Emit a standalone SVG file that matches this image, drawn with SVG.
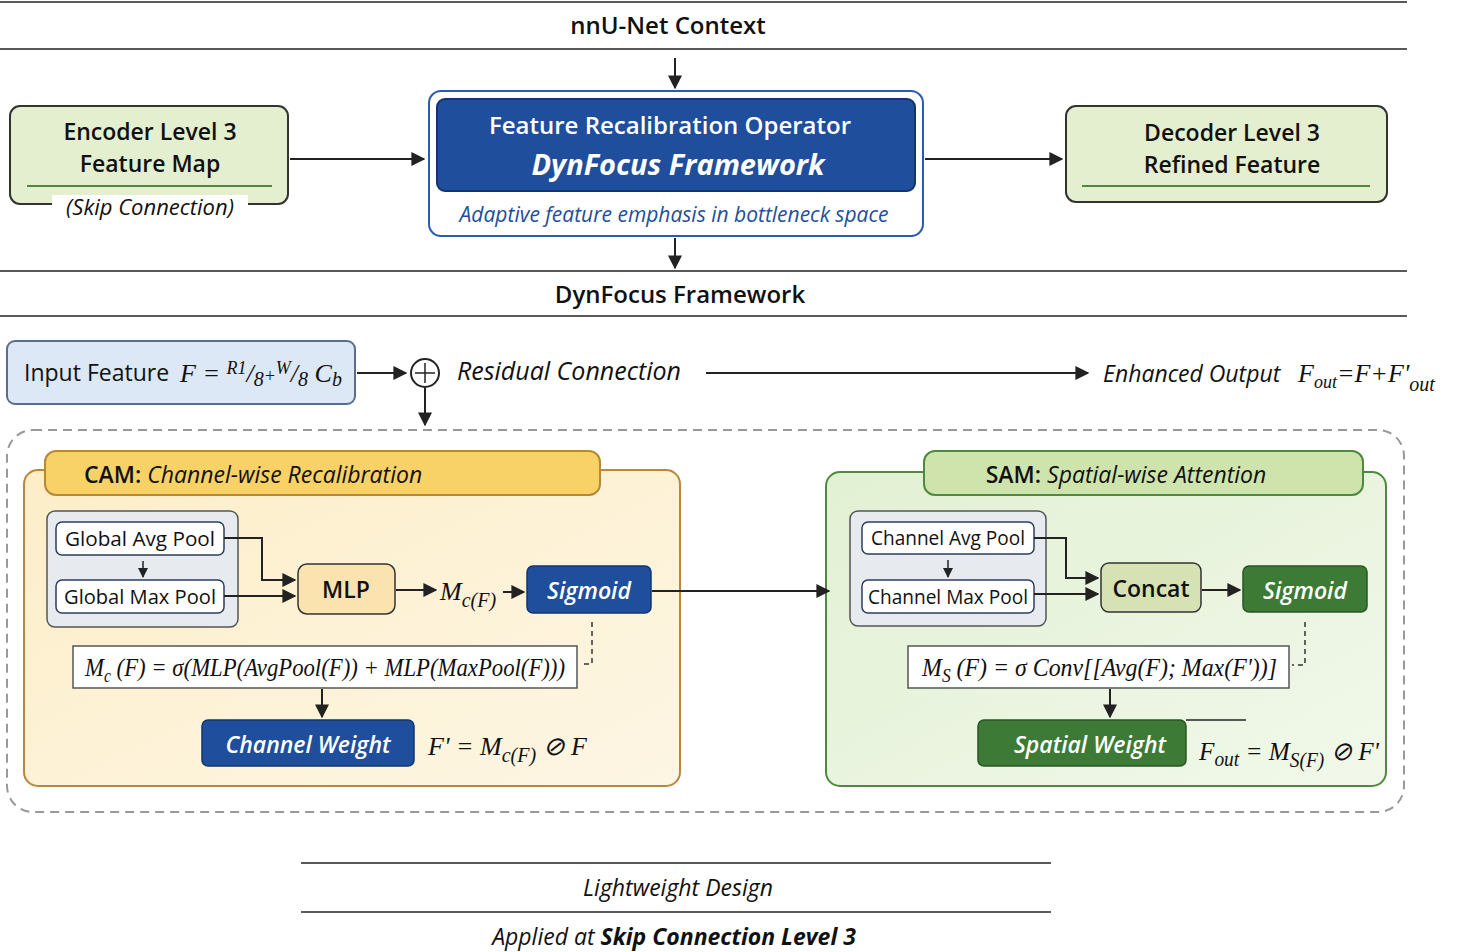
<svg xmlns="http://www.w3.org/2000/svg" width="1459" height="952" viewBox="0 0 1459 952">
<defs>
<marker id="ah" viewBox="0 0 10 10" refX="9" refY="5" markerWidth="7" markerHeight="7" orient="auto-start-reverse"><path d="M0,0 L10,5 L0,10 z" fill="#222"/></marker>
<linearGradient id="camg" x1="0" y1="0" x2="1" y2="1"><stop offset="0" stop-color="#fdeec8"/><stop offset="1" stop-color="#fdf6e4"/></linearGradient>
<linearGradient id="samg" x1="0" y1="0" x2="1" y2="1"><stop offset="0" stop-color="#e2f0d3"/><stop offset="1" stop-color="#f1f8ea"/></linearGradient>
<style>
text{font-family:"Open Sans","Noto Sans",sans-serif;fill:#111}
.h{font-size:24px;font-weight:600;text-anchor:middle}
.n{font-size:23px;font-weight:600;text-anchor:middle}
.it{font-style:italic}
.m{font-family:"Liberation Serif",serif;font-style:italic;font-size:26px}
.w{fill:#fff}
.ln{stroke:#222;stroke-width:1.5}
.c{stroke:#222;stroke-width:2;fill:none;marker-end:url(#ah)}
.pb{fill:#fff;stroke:#2d3e5a;stroke-width:1.5}
.sm{font-size:20px;text-anchor:middle}
</style>
</defs>
<rect width="1459" height="952" fill="#fff"/>
<g id="headers">
<line class="ln" x1="0" y1="2" x2="1407" y2="2"/>
<text class="h" x="668" y="34">nnU-Net Context</text>
<line class="ln" x1="0" y1="49" x2="1407" y2="49"/>
<line class="ln" x1="0" y1="271" x2="1407" y2="271"/>
<text class="h" x="680" y="303">DynFocus Framework</text>
<line class="ln" x1="0" y1="316" x2="1407" y2="316"/>
<line class="ln" x1="301" y1="863" x2="1051" y2="863"/>
<text x="678" y="896" text-anchor="middle" font-size="23" class="it">Lightweight Design</text>
<line class="ln" x1="301" y1="912" x2="1051" y2="912"/>
<text x="674" y="945" text-anchor="middle" font-size="23" class="it">Applied at <tspan font-weight="700">Skip Connection Level 3</tspan></text>
</g>
<g id="encoder">
<rect x="10" y="106" width="278" height="98" rx="10" fill="#e3efcf" stroke="#333" stroke-width="2"/>
<text class="n" x="150" y="140">Encoder Level 3</text>
<text class="n" x="150" y="172">Feature Map</text>
<line x1="27" y1="186" x2="272" y2="186" stroke="#4d8a3e" stroke-width="2"/>
<rect x="52" y="195" width="196" height="26" fill="#fff"/>
<text x="150" y="215" text-anchor="middle" font-size="22" class="it">(Skip Connection)</text>
</g>
<g id="operator">
<rect x="429" y="91" width="494" height="145" rx="12" fill="#fff" stroke="#2a5bb0" stroke-width="2"/>
<rect x="437" y="99" width="478" height="92" rx="8" fill="#1f4e9c" stroke="#13346e" stroke-width="2"/>
<text class="h w" x="670" y="134">Feature Recalibration Operator</text>
<text class="w" x="678" y="175" text-anchor="middle" font-size="29" font-weight="700" font-style="italic">DynFocus Framework</text>
<text x="674" y="222" text-anchor="middle" font-size="21" class="it" style="fill:#1f4e9c">Adaptive feature emphasis in bottleneck space</text>
</g>
<g id="decoder">
<rect x="1066" y="106" width="321" height="96" rx="10" fill="#e3efcf" stroke="#333" stroke-width="2"/>
<text class="n" x="1232" y="141">Decoder Level 3</text>
<text class="n" x="1232" y="173">Refined Feature</text>
<line x1="1082" y1="186" x2="1370" y2="186" stroke="#4d8a3e" stroke-width="2"/>
</g>
<g id="input">
<rect x="7" y="341" width="348" height="63" rx="8" fill="#dce8f5" stroke="#5a6e8c" stroke-width="2"/>
<text x="24" y="381" font-size="23">Input Feature</text>
<text class="m" x="180" y="382">F = <tspan font-size="18" dy="-8">R1</tspan><tspan dy="8">/</tspan><tspan font-size="20" dy="4">8</tspan><tspan font-size="18" dy="-4">+</tspan><tspan font-size="18" dy="-8">W</tspan><tspan dy="8">/</tspan><tspan font-size="20" dy="4">8</tspan><tspan dy="-4"> C</tspan><tspan font-size="20" dy="4">b</tspan></text>
</g>
<g id="residual">
<circle cx="425" cy="373" r="14" fill="#fff" stroke="#222" stroke-width="2"/>
<line class="ln" x1="415" y1="373" x2="435" y2="373"/><line class="ln" x1="425" y1="363" x2="425" y2="383"/>
<text x="457" y="380" font-size="25" class="it">Residual Connection</text>
</g>
<g id="output">
<text x="1103" y="382" font-size="23" class="it">Enhanced Output</text>
<text class="m" x="1298" y="382" font-size="25">F<tspan font-size="18" dy="6">out</tspan><tspan dy="-6">=F+F'</tspan><tspan font-size="20" dy="9">out</tspan></text>
</g>
<g id="dynfocus">
<rect x="7" y="430" width="1397" height="382" rx="26" fill="none" stroke="#999" stroke-width="2" stroke-dasharray="9 6"/>
</g>
<g id="cam">
<rect x="24" y="470" width="656" height="316" rx="14" fill="url(#camg)" stroke="#b8873a" stroke-width="2"/>
<rect x="45" y="451" width="555" height="44" rx="11" fill="#f8d266" stroke="#b8873a" stroke-width="2"/>
<text x="84" y="483" font-size="23"><tspan font-weight="600">CAM: </tspan><tspan font-style="italic">Channel-wise Recalibration</tspan></text>
<rect x="47" y="511" width="191" height="116" rx="8" fill="#e7ebf0" stroke="#555" stroke-width="1.5"/>
<rect class="pb" x="56" y="522" width="168" height="33" rx="6"/>
<text class="sm" x="140" y="546" textLength="150" lengthAdjust="spacingAndGlyphs">Global Avg Pool</text>
<rect class="pb" x="56" y="580" width="168" height="33" rx="6"/>
<text class="sm" x="140" y="604" textLength="152" lengthAdjust="spacingAndGlyphs">Global Max Pool</text>
<rect x="298" y="564" width="97" height="50" rx="9" fill="#fbe3b0" stroke="#333" stroke-width="1.5"/>
<text class="n" x="346" y="598">MLP</text>
<text class="m" x="440" y="600" font-size="28">M<tspan font-size="20" dy="7">c(F)</tspan></text>
<rect x="527" y="566" width="124" height="47" rx="6" fill="#1f4e9c" stroke="#13346e" stroke-width="1.5"/>
<text class="n w it" x="589" y="599">Sigmoid</text>
<rect x="73" y="646" width="504" height="42" fill="#fff" stroke="#555" stroke-width="1.5"/>
<text class="m" x="85" y="676" font-size="24" textLength="480" lengthAdjust="spacingAndGlyphs">M<tspan font-size="18" dy="6">c</tspan><tspan dy="-6"> (F) = σ(MLP(AvgPool(F)) + MLP(MaxPool(F)))</tspan></text>
<rect x="202" y="720" width="212" height="46" rx="6" fill="#1f4e9c" stroke="#13346e" stroke-width="1.5"/>
<text class="n w it" x="308" y="753">Channel Weight</text>
<text class="m" x="428" y="755">F' = M<tspan font-size="20" dy="7">c(F)</tspan><tspan dy="-7"> ⊘ F</tspan></text>
</g>
<g id="sam">
<rect x="826" y="472" width="560" height="314" rx="14" fill="url(#samg)" stroke="#4d8a3e" stroke-width="2"/>
<rect x="924" y="451" width="439" height="44" rx="11" fill="#cfe4ad" stroke="#4d8a3e" stroke-width="2"/>
<text x="1126" y="483" font-size="23" text-anchor="middle"><tspan font-weight="600">SAM: </tspan><tspan font-style="italic">Spatial-wise Attention</tspan></text>
<rect x="850" y="511" width="196" height="115" rx="8" fill="#e7ebf0" stroke="#555" stroke-width="1.5"/>
<rect class="pb" x="862" y="522" width="172" height="32" rx="6"/>
<text class="sm" x="948" y="545" textLength="154" lengthAdjust="spacingAndGlyphs">Channel Avg Pool</text>
<rect class="pb" x="862" y="580" width="172" height="33" rx="6"/>
<text class="sm" x="948" y="604" textLength="160" lengthAdjust="spacingAndGlyphs">Channel Max Pool</text>
<rect x="1101" y="563" width="100" height="49" rx="8" fill="#d6e2b4" stroke="#333" stroke-width="1.5"/>
<text class="n" x="1151" y="597">Concat</text>
<rect x="1243" y="566" width="124" height="46" rx="6" fill="#3d7a35" stroke="#2a5525" stroke-width="1.5"/>
<text class="n w it" x="1305" y="599">Sigmoid</text>
<rect x="908" y="646" width="381" height="42" fill="#fff" stroke="#555" stroke-width="1.5"/>
<text class="m" x="922" y="676" font-size="25" textLength="355" lengthAdjust="spacingAndGlyphs">M<tspan font-size="19" dy="6">S</tspan><tspan dy="-6"> (F) = σ Conv[[Avg(F); Max(F'))]</tspan></text>
<rect x="978" y="720" width="208" height="46" rx="6" fill="#3d7a35" stroke="#2a5525" stroke-width="1.5"/>
<text class="n w it" x="1090" y="753">Spatial Weight</text>
<line class="ln" x1="1186" y1="720" x2="1246" y2="720"/>
<text class="m" x="1199" y="760" textLength="180" lengthAdjust="spacingAndGlyphs">F<tspan font-size="20" dy="6">out</tspan><tspan dy="-6"> = M</tspan><tspan font-size="20" dy="7">S(F)</tspan><tspan dy="-7"> ⊘ F'</tspan></text>
</g>
<g id="connectors">
<line class="c" x1="675" y1="58" x2="675" y2="88"/>
<line class="c" x1="290" y1="159" x2="424" y2="159"/>
<line class="c" x1="925" y1="159" x2="1062" y2="159"/>
<line class="c" x1="675" y1="238" x2="675" y2="268"/>
<line class="c" x1="357" y1="373" x2="406" y2="373"/>
<line class="c" x1="706" y1="373" x2="1088" y2="373"/>
<line class="c" x1="425" y1="388" x2="425" y2="425"/>
<line class="c" x1="143" y1="561" x2="143" y2="577" style="stroke-width:1.5"/>
<polyline class="c" points="224,538 262,538 262,580 295,580"/>
<line class="c" x1="224" y1="596" x2="295" y2="596"/>
<line class="c" x1="396" y1="590" x2="436" y2="590"/>
<line class="c" x1="503" y1="592" x2="524" y2="592"/>
<polyline points="592,622 592,664 580,664" fill="none" stroke="#333" stroke-width="1.5" stroke-dasharray="5 4"/>
<line class="c" x1="322" y1="689" x2="322" y2="717"/>
<line class="c" x1="652" y1="591" x2="829" y2="591"/>
<line class="c" x1="948" y1="560" x2="948" y2="577" style="stroke-width:1.5"/>
<polyline class="c" points="1034,538 1066,538 1066,578 1098,578"/>
<line class="c" x1="1034" y1="594" x2="1098" y2="594"/>
<line class="c" x1="1202" y1="590" x2="1240" y2="590"/>
<polyline points="1305,622 1305,665 1292,665" fill="none" stroke="#333" stroke-width="1.5" stroke-dasharray="5 4"/>
<line class="c" x1="1110" y1="689" x2="1110" y2="717"/>
</g>
</svg>
